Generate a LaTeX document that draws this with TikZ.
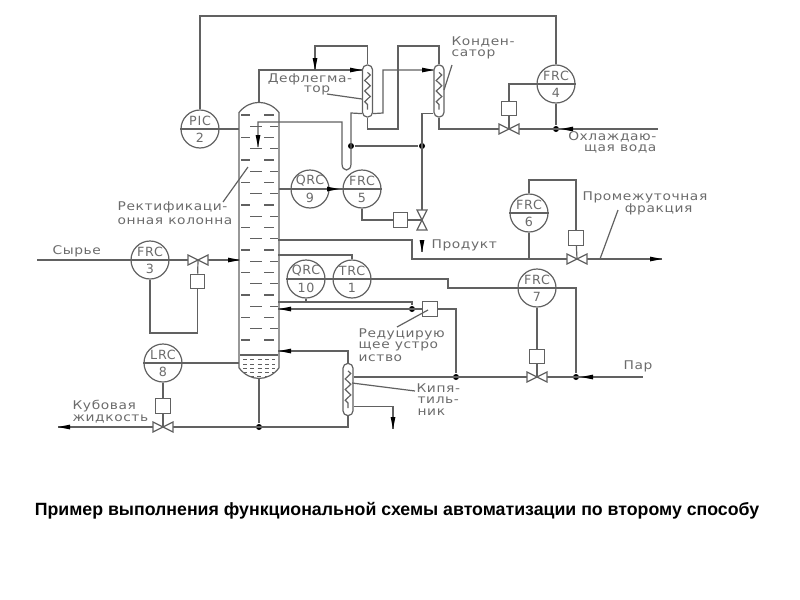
\documentclass[tikz,border=0pt]{standalone}
\usepackage{fontspec}
\setmainfont{Liberation Sans}
\newfontfamily\cadfont[LetterSpace=5,FakeStretch=1.15]{DejaVu Sans}
\newfontfamily\tagfont[LetterSpace=6]{DejaVu Sans}
\usepackage{tikz}
\usetikzlibrary{decorations.pathmorphing}

\definecolor{inkline}{gray}{0.38}
\definecolor{inktext}{gray}{0.42}

\tikzset{
  instrument/.style={draw=inkline,circle,minimum size=28.5pt,inner sep=0pt},
  actuator/.style={draw=inkline,fill=white,minimum size=11pt,inner sep=0pt},
  junction/.style={circle,fill=black,minimum size=4.5pt,inner sep=0pt},
  exchanger/.style={draw=inkline,minimum width=7.5pt,minimum height=39pt,inner sep=0pt,rounded corners=3.5pt},
  cadtext/.style={text=inktext,font=\cadfont\fontsize{9}{9}\selectfont,inner sep=0pt},
  tagtext/.style={text=inktext,font=\tagfont\fontsize{9.5}{9.5}\selectfont,inner sep=0pt},
}

% instrument circle with its divider and two lines of text
\newcommand{\instr}[4]{
  \node[instrument] (#1) at (#2) {};
  \draw (#1.west) -- (#1.east);
  \node[tagtext] (#1top) at ([yshift=6pt]#1.center) {#3};
  \node[tagtext] (#1num) at ([yshift=-6.5pt]#1.center) {#4};
}
\newcommand{\hvalve}[2]{
  \coordinate (#1) at (#2);
  \draw[fill=white] (#1) -- ++(-10,-5) -- ++(0,10) -- cycle (#1) -- ++(10,-5) -- ++(0,10) -- cycle;
}
\newcommand{\vvalve}[2]{
  \coordinate (#1) at (#2);
  \draw[fill=white] (#1) -- ++(-5,-10) -- ++(10,0) -- cycle (#1) -- ++(-5,10) -- ++(10,0) -- cycle;
}
\newcommand{\flowtip}[2]{
  \fill[black,shift={(#1)},rotate=#2] (-9pt,-1.8pt) -- (0,0) -- (-9pt,1.8pt) -- cycle;
}

\begin{document}
\begin{tikzpicture}[x=0.75pt,y=-0.75pt,inkline,line width=0.9pt]
    \useasboundingbox (0,0) rectangle (800,600);

    % column
    \node[minimum width=29pt,minimum height=206.25pt,inner sep=0pt] (column) at (259,240.5) {};
    \draw ([yshift=-7.5pt]column.north west) .. controls ([xshift=8pt,yshift=2.5pt]column.north west) and ([xshift=-8pt,yshift=2.5pt]column.north east) .. ([yshift=-7.5pt]column.north east)
      -- ([yshift=8pt]column.south east) .. controls ([xshift=-8pt,yshift=-2.5pt]column.south east) and ([xshift=8pt,yshift=-2.5pt]column.south west) .. ([yshift=8pt]column.south west) -- cycle;
    \foreach \i in {0,2,...,20} {
        \draw (241,115+11.25*\i) -- (250,115+11.25*\i);
        \draw (264,115+11.25*\i) -- (274,115+11.25*\i);
    }
    \foreach \i in {1,3,...,19} {
        \draw (250,115+11.25*\i) -- (262,115+11.25*\i);
        \draw (270,115+11.25*\i) -- (278,115+11.25*\i);
    }
    \draw[line width=1.2pt] (240,355) -- (278,355);
    \foreach \yy in {359,364,368,372} \draw[line width=0.6pt,dash pattern=on 3pt off 2.5pt] (243,\yy) -- (275,\yy);
    \draw[line width=0.6pt,dash pattern=on 3pt off 2.5pt] (250,376) -- (268,376);

    % exchangers
    \node[exchanger] (deph) at (367.5,91) {};
    \node[exchanger] (cond) at (439,91) {};
    \node[exchanger] (reb) at (348,389.5) {};
    \foreach \hx in {deph,cond,reb}
        \draw[decorate,decoration={zigzag,amplitude=2.1pt,segment length=8pt}] ([yshift=-6pt]\hx.north) -- ([yshift=6pt]\hx.south);

    % instruments
    \instr{pic}{200,129}{PIC}{2}
    \instr{frcfour}{556,84}{FRC}{4}
    \instr{frcthree}{150,260}{FRC}{3}
    \instr{qrcnine}{310,189}{QRC}{9}
    \instr{frcfive}{362,189}{FRC}{5}
    \instr{frcsix}{529,213}{FRC}{6}
    \instr{qrcten}{306,279}{QRC}{10}
    \instr{trc}{352,279}{TRC}{1}
    \instr{frcseven}{537,288}{FRC}{7}
    \instr{lrc}{163,363}{LRC}{8}

    % junctions and free ends
    \node[junction] (jcold) at (351,146) {};
    \node[junction] (jprod) at (422,146) {};
    \node[junction] (jcool) at (556,129) {};
    \node[junction] (jred) at (412,309) {};
    \node[junction] (jsteam) at (456,377) {};
    \node[junction] (jpar) at (576,377) {};
    \node[junction] (jbot) at (259,427) {};
    \coordinate (coolend) at (658,129);
    \coordinate (prodstub) at (422,240);
    \coordinate (prodend) at (422,252);
    \coordinate (midend) at (662,259);
    \coordinate (steamend) at (643,377);
    \coordinate (bottomend) at (58,427);
    \coordinate (feedstart) at (37,260);
    \coordinate (dephin) at (deph.north west |- 0,70);
    \coordinate (condin) at (cond.north west |- 0,70);
    \coordinate (rebout) at (393,429);

    % overhead and condensers
    \draw (column.north) |- (dephin);
    \draw (315,70) -- (315,46) -| (deph.north);
    \draw (deph.south) -- (deph.south |- 0,129) -- (398,129) -- (398,46) -| (cond.north);
    \draw ([yshift=3pt]deph.south east) -- (383,113) -- (383,70) -- (condin);
    \draw ([yshift=3pt]deph.south west) -- (351,113) -- (351,164) .. controls (351,172) and (342,172) .. (342,164) -- (342,122) -- (258,122) -- (258,147);
    \draw (jcold) -- (jprod);
    \draw ([yshift=3pt]cond.south west) -| (422,220);
    \draw (prodstub) -- (prodend);
    \draw (cond.south) |- (coolend);

    % column side lines
    \draw (pic.east) -- (pic.east -| column.west);
    \draw (pic.north) -- (pic.north |- 0,16) -- (frcfour.north |- 0,16) -- (frcfour.north);
    \draw (frcfour) -- (jcool);
    \draw (qrcnine.west -| column.east) -- (qrcnine.west);
    \draw (qrcnine.east) -- (frcfive.west);
    \draw (feedstart) -- (feedstart -| column.west);
    \draw (278,240) -- (412,240) -- (412,259) -- (midend);
    \draw (278,255) -| (trc.north);
    \draw (qrcten.east) -- (trc.west);
    \draw (trc.east) -- (448,279) -- (448,288) -- (frcseven.west);
    \draw (frcseven.east) -- (576,288) -- (jpar);
    \draw (qrcten.south) -- (qrcten.south |- 0,302);
    \draw (278,302) -- (412,302) -- (jred);
    \draw (lrc.east) -- (lrc.east -| column.west);
    \draw (column.south) -- (jbot);

    % reboiler
    \draw (278,351) -| (reb.north);
    \draw (reb.south) |- (bottomend);
    \draw ([yshift=7.5pt]reb.south east) -| (rebout);
    \draw (reb.east |- 0,377) -- (steamend);

    % valves
    \hvalve{vcool}{509,129}
    \vvalve{vprod}{422,220}
    \hvalve{vfeed}{198,260}
    \hvalve{vmid}{577,259}
    \hvalve{vsteam}{537,377}
    \hvalve{vbot}{163,427}

    % actuators
    \node[actuator] (acool) at (509,108.5) {};
    \node[actuator] (aprod) at (400.5,220) {};
    \node[actuator] (afeed) at (197.5,281.5) {};
    \node[actuator] (amid) at (576,238) {};
    \node[actuator] (asteam) at (537,356.5) {};
    \node[actuator] (abot) at (163,406) {};
    \node[actuator] (ared) at (430,309) {};

    % impulse lines
    \draw (frcfour.west) -| (acool.north);
    \draw (acool) -- (vcool);
    \draw (frcfive.south) |- (aprod.west);
    \draw (aprod) -- (vprod);
    \draw (vfeed) -- (afeed);
    \draw (afeed.south) -- (197.5,333) -- (150,333) -- (frcthree.south);
    \draw (frcsix.south) -- (frcsix.south |- 0,259);
    \draw (frcsix.north) -- (529,180) -| (amid.north);
    \draw (amid) -- (vmid);
    \draw (frcseven.south) -- (asteam.north);
    \draw (asteam) -- (vsteam);
    \draw (lrc.south) -- (abot.north);
    \draw (abot) -- (vbot);
    \draw (278,309) -- (ared.west);
    \draw (ared.east) -| (jsteam);

    % flow arrows
    \flowtip{258,147}{-90}
    \flowtip{362,70}{0}
    \flowtip{434,70}{0}
    \flowtip{315,70}{-90}
    \flowtip{339,189}{0}
    \flowtip{561,129}{180}
    \flowtip{422,252}{-90}
    \flowtip{662,259}{0}
    \flowtip{240,260}{0}
    \flowtip{279,309}{180}
    \flowtip{279,351}{180}
    \flowtip{581,377}{180}
    \flowtip{58,427}{180}
    \flowtip{393,429}{-90}

    % labels
    \node[cadtext] (tdeph) at (310,79) {Дефлегма-};
    \node[cadtext] (tdephb) at (317,90) {тор};
    \node[cadtext,anchor=west] (tcond) at (451,42) {Конден-};
    \node[cadtext,anchor=west] (tcondb) at (451,54) {сатор};
    \node[cadtext,anchor=east] (tcool) at (657,137) {Охлаждаю-};
    \node[cadtext,anchor=east] (tcoolb) at (657,149) {щая вода};
    \node[cadtext,anchor=east] (tcol) at (228,207) {Ректификаци-};
    \node[cadtext,anchor=east] (tcolb) at (233,221) {онная колонна};
    \node[cadtext,anchor=west] (tfeed) at (52,251) {Сырье};
    \node[cadtext,anchor=west] (tprod) at (431,245) {Продукт};
    \node[cadtext,anchor=west] (tmid) at (582,197) {Промежуточная};
    \node[cadtext,anchor=east] (tmidb) at (693,209) {фракция};
    \node[cadtext,anchor=west] (tsteam) at (623,366) {Пар};
    \node[cadtext,anchor=west] (tred) at (358,334) {Редуцирую};
    \node[cadtext,anchor=west] (tredb) at (358,346) {щее устро};
    \node[cadtext,anchor=west] (tredc) at (358,358) {иство};
    \node[cadtext,anchor=west] (treb) at (416,388) {Кипя-};
    \node[cadtext,anchor=west] (trebb) at (417,400) {тиль-};
    \node[cadtext,anchor=west] (trebc) at (417,412) {ник};
    \node[cadtext,anchor=west] (tbot) at (72,406) {Кубовая};
    \node[cadtext,anchor=west] (tbotb) at (72,419) {жидкость};

    % label leaders
    \draw (327,94) -- (362,99);
    \draw (452,65) -- (444,90);
    \draw (223,202) -- (248,167);
    \draw (600,259) -- (618,210);
    \draw (397,327) -- (428,310);
    \draw (352,383) -- (415,391);

    % caption
    \node[text=black,font=\bfseries\fontsize{13.3}{14}\selectfont,inner sep=0pt] (caption) at (397,511) {Пример выполнения функциональной схемы автоматизации по второму способу};
\end{tikzpicture}
\end{document}
